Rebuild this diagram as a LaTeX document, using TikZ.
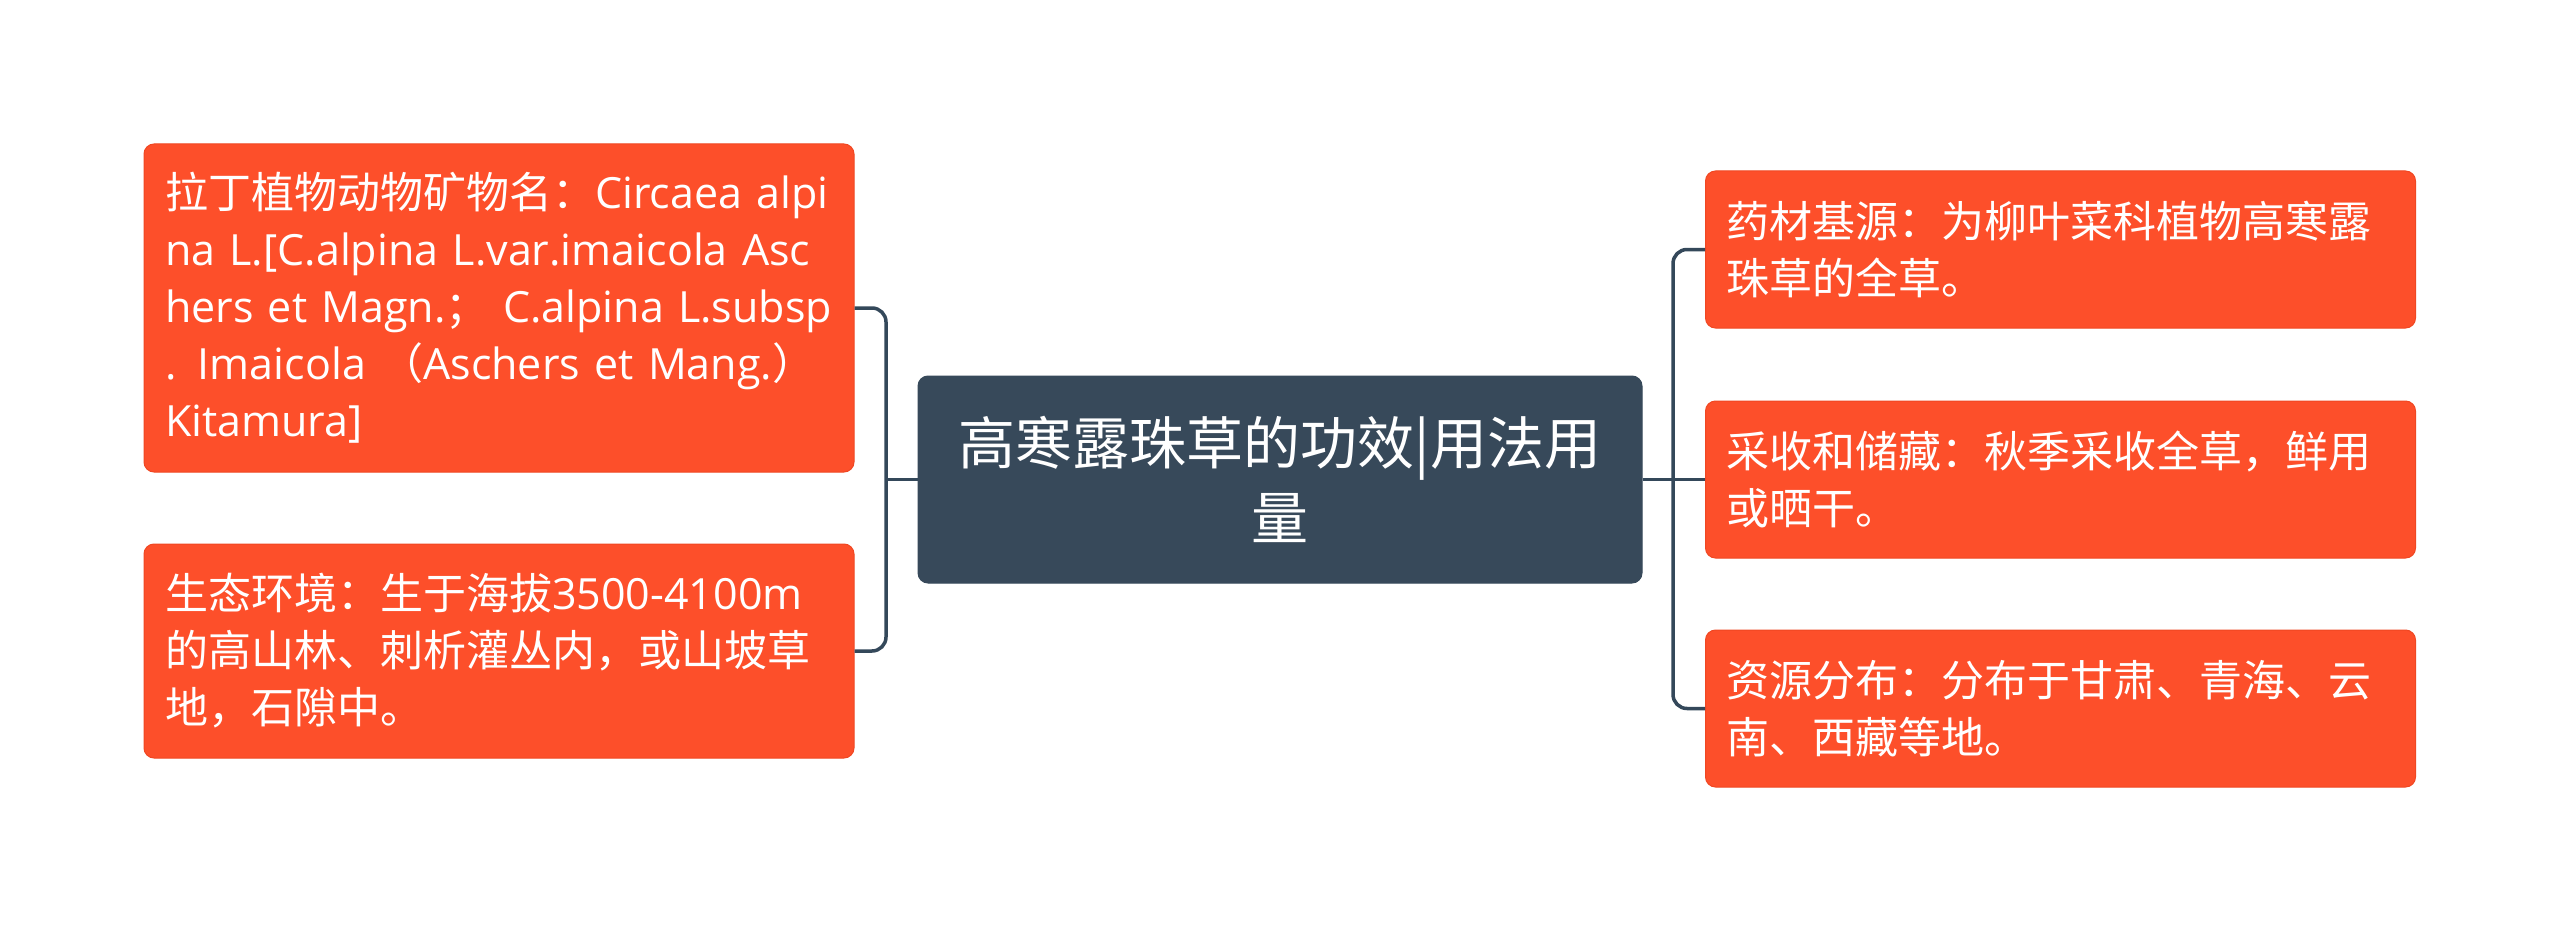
\documentclass[tikz,border=0pt]{standalone}
\usepackage{fontspec}
\setmainfont{Open Sans}
\newfontfamily\cjk{Noto Sans CJK SC}
\definecolor{leafc}{HTML}{FD4F2A}
\definecolor{leafb}{HTML}{F04722}
\definecolor{rootc}{HTML}{37495A}
\definecolor{linec}{HTML}{34485A}
\newcommand\oneline[1]{\mbox{#1}}
\begin{document}
\begin{tikzpicture}[x=1pt,y=-1pt,
  leaf/.style={fill=leafc, draw=leafb, line width=1pt, rounded corners=10pt,
    text=white, align=left, text width=668pt, inner xsep=21pt, inner ysep=0pt,
    font=\fontsize{43}{57}\selectfont},
  rootbox/.style={fill=rootc, draw=rootc, line width=1pt, rounded corners=10pt,
    text=white, align=center, minimum width=724pt, minimum height=207pt,
    inner sep=0pt, font=\cjk\fontsize{57}{75}\selectfont},
  link/.style={draw=linec, line width=3.5pt, rounded corners=14pt}]
\fill[white] (0,0) rectangle (2560,931);
\useasboundingbox (0,0) rectangle (2560,931);

\node[rootbox] (c) at (1280,479.5) {高寒露珠草的功效|用法用\\量};

\node[leaf, minimum height=328pt] (l1) at (499,308) {%
\oneline{{\cjk 拉丁植物动物矿物名：}Circaea alpi}\\
\oneline{na L.[C.alpina L.var.imaicola Asc}\\
\oneline{hers et Magn.{\cjk ；}\ C.alpina L.subsp}\\
\oneline{. Imaicola\ {\cjk （}Aschers et Mang.{\cjk ）}}\\
\oneline{Kitamura]}};

\node[leaf, minimum height=214pt] (l2) at (499,651) {%
\oneline{{\cjk 生态环境：生于海拔}3500-4100m}\\
\oneline{\cjk 的高山林、刺析灌丛内，或山坡草}\\
\oneline{\cjk 地，石隙中。}};

\node[leaf, minimum height=157pt] (r1) at (2060.5,249.5) {%
\oneline{\cjk 药材基源：为柳叶菜科植物高寒露}\\
\oneline{\cjk 珠草的全草。}};

\node[leaf, minimum height=157pt] (r2) at (2060.5,479.5) {%
\oneline{\cjk 采收和储藏：秋季采收全草，鲜用}\\
\oneline{\cjk 或晒干。}};

\node[leaf, minimum height=157pt] (r3) at (2060.5,708.5) {%
\oneline{\cjk 资源分布：分布于甘肃、青海、云}\\
\oneline{\cjk 南、西藏等地。}};

\coordinate (cl) at (886,479.5);
\coordinate (cr) at (1673,479.5);

\draw[link] (l1.east) -| (cl) |- (l2.east);
\draw[link] (c.west) -- (cl);
\draw[link] (r1.west) -| (cr) |- (r3.west);
\draw[link] (c.east) -- (r2.west);
\end{tikzpicture}
\end{document}
